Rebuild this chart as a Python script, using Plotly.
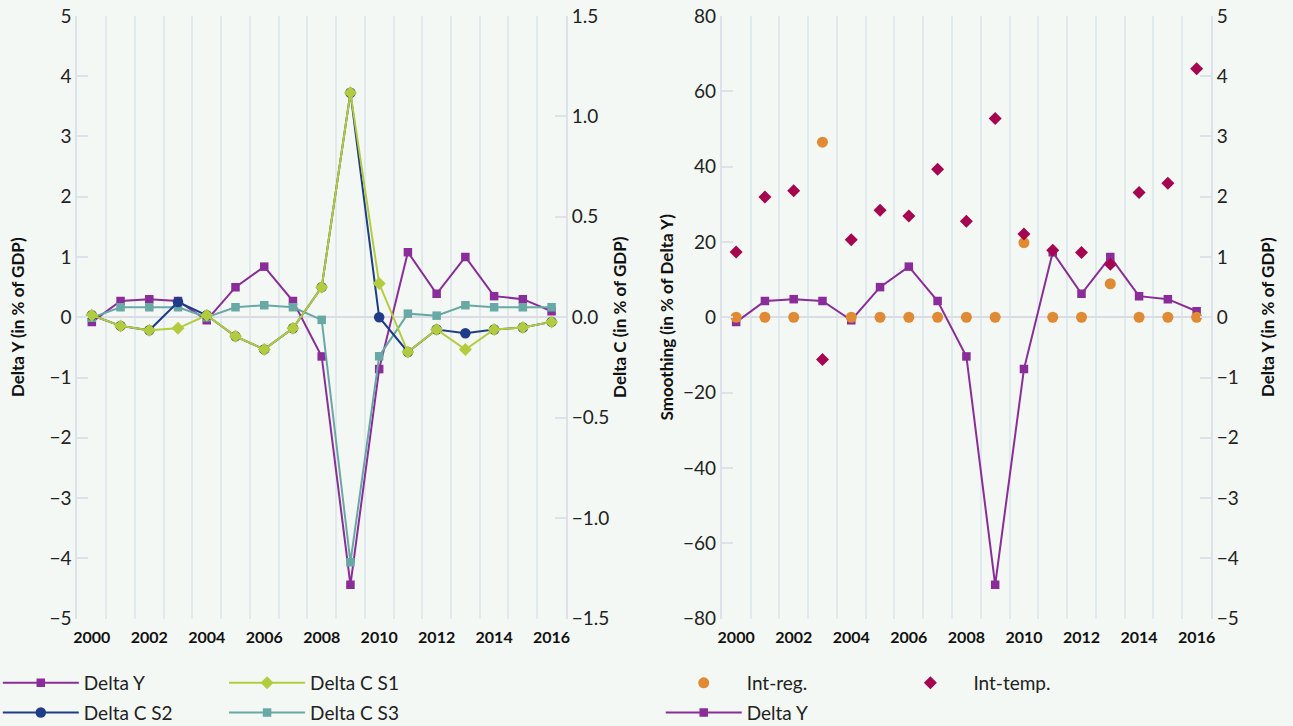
import plotly.graph_objects as go

years = list(range(2000, 2017))

# Left panel: output shock (left axis) and consumption responses (right axis), % of GDP
delta_y = [-0.08, 0.27, 0.30, 0.27, -0.05, 0.50, 0.84, 0.27, -0.65, -4.44,
           -0.86, 1.08, 0.39, 1.00, 0.35, 0.30, 0.10]
delta_c_s1 = [0.01, -0.043, -0.065, -0.055, 0.01, -0.095, -0.16, -0.055, 0.15, 1.118,
              0.168, -0.173, -0.061, -0.161, -0.061, -0.051, -0.023]
delta_c_s2 = [0.01, -0.043, -0.065, 0.076, 0.01, -0.095, -0.16, -0.055, 0.15, 1.118,
              0.0, -0.173, -0.061, -0.08, -0.061, -0.051, -0.023]
delta_c_s3 = [-0.002, 0.05, 0.05, 0.05, 0.0, 0.05, 0.06, 0.05, -0.013, -1.22,
              -0.194, 0.018, 0.008, 0.06, 0.05, 0.05, 0.05]

# Right panel: smoothing channels (% of Delta Y)
int_reg = [0, 0, 0, 46.5, 0, 0, 0, 0, 0, 0, 19.8, 0, 0, 8.9, 0, 0, 0]
int_temp = [17.3, 31.9, 33.6, -11.2, 20.6, 28.4, 26.9, 39.3, 25.5, 52.8,
            22.1, 17.8, 17.2, 14.1, 33.1, 35.6, 66.0]

xticks = list(range(2000, 2017, 2))
half_years = [y + 0.5 for y in years[:-1]]

PURPLE = "#8a2c99"
NAVY = "#1f3c88"
LIME = "#b3cc3d"
TEAL = "#68a8a5"
ORANGE = "#e08a33"
CRIMSON = "#a5064f"
BG = "#f4f8f4"
AXIS = "#dde2ea"
GRID = "#e0eaec"
ZERO = "#dcdce6"
FONT = "Lato"


def line_trace(y, name, color, symbol, size, xa, ya, legend, rank):
    return go.Scatter(x=years, y=y, name=name, mode="lines+markers",
                      line=dict(color=color, width=2),
                      marker=dict(symbol=symbol, size=size, color=color),
                      xaxis=xa, yaxis=ya, legend=legend, legendrank=rank,
                      legendgroup=name + xa)


def marker_trace(y, name, color, symbol, size, xa, ya, legend, rank):
    return go.Scatter(x=years, y=y, name=name, mode="markers",
                      marker=dict(symbol=symbol, size=size, color=color),
                      xaxis=xa, yaxis=ya, legend=legend, legendrank=rank,
                      legendgroup=name + xa)


fig = go.Figure()
fig.add_trace(line_trace(delta_y, "Delta Y", PURPLE, "square", 8.5, "x", "y", "legend", 1))
fig.add_trace(line_trace(delta_c_s3, "Delta C S3", TEAL, "square", 8.5, "x", "y2", "legend2", 2))
fig.add_trace(line_trace(delta_c_s2, "Delta C S2", NAVY, "circle", 10.5, "x", "y2", "legend", 2))
fig.add_trace(line_trace(delta_c_s1, "Delta C S1", LIME, "diamond", 10, "x", "y2", "legend2", 1))

fig.add_trace(line_trace(delta_y, "Delta Y", PURPLE, "square", 8.5, "x2", "y3", "legend3", 2))
fig.add_trace(marker_trace(int_reg, "Int-reg.", ORANGE, "circle", 11, "x2", "y4", "legend3", 1))
fig.add_trace(marker_trace(int_temp, "Int-temp.", CRIMSON, "diamond", 10, "x2", "y4", "legend4", 1))

ydom = [0.148, 0.978]
tickfont = dict(family=FONT, size=19, color="#222222")
titlefont = dict(family=FONT, size=17, color="#111111", weight="bold")


def xaxis(domain, anchor):
    return dict(domain=domain, anchor=anchor, range=[1999.5, 2016.5],
                tickmode="array", tickvals=xticks, ticks="", showgrid=False,
                showline=False, zeroline=False, automargin=False,
                ticklabelstandoff=7,
                tickfont=dict(family=FONT, size=16, color="#111111", weight="bold"),
                minor=dict(tickmode="array", tickvals=half_years, showgrid=True,
                           gridcolor=GRID, gridwidth=1.5, ticks=""))


def yaxis(title, standoff, **kw):
    base = dict(domain=ydom, ticks="inside", ticklen=11, tickwidth=1.5,
                tickcolor=AXIS, showline=True, linecolor=AXIS, linewidth=2,
                showgrid=False, zeroline=False, automargin=False,
                tickfont=tickfont,
                title=dict(text=title, font=titlefont, standoff=standoff))
    base.update(kw)
    return base


fig.update_layout(
    template="none",
    width=1293, height=726,
    margin=dict(l=0, r=0, t=0, b=0, autoexpand=False),
    paper_bgcolor=BG, plot_bgcolor=BG,
    font=dict(family=FONT, color="#222222"),
    showlegend=True,
    xaxis=xaxis([0.0599, 0.4377], "y"),
    yaxis=yaxis("Delta Y (in % of GDP)", 21, range=[-5, 5], dtick=1,
                side="left", anchor="x",
                zeroline=True, zerolinecolor=ZERO, zerolinewidth=1.5),
    yaxis2=yaxis("Delta C (in % of GDP)", 6, range=[-1.5, 1.5], dtick=0.5,
                 tickformat=".1f", side="right", overlaying="y", anchor="x"),
    xaxis2=xaxis([0.5582, 0.9366], "y3"),
    yaxis3=yaxis("Delta Y (in % of GDP)", 24, range=[-5, 5], dtick=1,
                 side="right", anchor="x2",
                 zeroline=True, zerolinecolor=ZERO, zerolinewidth=1.5),
    yaxis4=yaxis("Smoothing (in % of Delta Y)", 5, range=[-80, 80], dtick=20,
                 side="left", overlaying="y3", anchor="x2"),
)

legend_common = dict(orientation="v", font=dict(family=FONT, size=19, color="#222222"),
                     bgcolor="rgba(0,0,0,0)", xanchor="left", yanchor="top",
                     y=0.0854, traceorder="grouped", tracegroupgap=2,
                     itemwidth=76)
fig.update_layout(
    legend=dict(x=-0.0017, **legend_common),
    legend2=dict(x=0.1733, **legend_common),
    legend3=dict(x=0.511, **legend_common),
    legend4=dict(x=0.6863, **legend_common),
)

fig.write_html("out.html")
